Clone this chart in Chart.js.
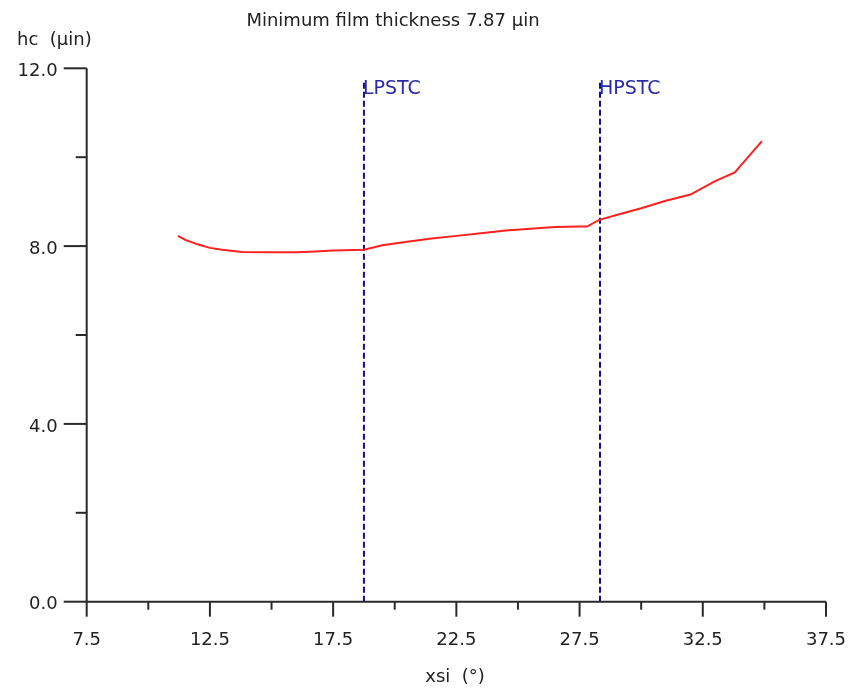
<!DOCTYPE html>
<html>
<head>
<meta charset="utf-8">
<script src="https://cdn.jsdelivr.net/npm/chart.js@4/dist/chart.umd.min.js"></script>
<style>
html,body{margin:0;padding:0;background:#fff;}
#wrap{width:851px;height:693px;position:relative;}
</style>
</head>
<body>
<div id="wrap"><canvas id="c" width="851" height="693"></canvas></div>
<script>
const titleText = "Minimum film thickness 7.87 \u00b5in";
const yAxisTitle = "hc  (\u00b5in)";
const xAxisTitle = "xsi  (\u00b0)";
const xsi = [11.2, 11.5, 12.0, 12.5, 13.0, 13.8, 15.0, 16.0, 16.8, 17.5, 18.75, 19.5, 20.5, 21.5, 22.5, 23.5, 24.5, 25.5, 26.5, 27.5, 27.8, 28.3, 29.0, 30.0, 31.0, 32.0, 33.0, 33.8, 34.3, 34.9];
const hc  = [8.23, 8.14, 8.04, 7.96, 7.92, 7.87, 7.86, 7.86, 7.88, 7.90, 7.92, 8.02, 8.10, 8.17, 8.23, 8.29, 8.35, 8.39, 8.43, 8.44, 8.44, 8.59, 8.70, 8.85, 9.02, 9.16, 9.46, 9.66, 9.98, 10.36];
const markerNames = ["LPSTC", "HPSTC"];
const markerX = [18.75, 28.33];
const markerTop = 11.7;
const xTicks = [7.5, 10, 12.5, 15, 17.5, 20, 22.5, 25, 27.5, 30, 32.5, 35, 37.5];
const xTickLabels = ["7.5", "", "12.5", "", "17.5", "", "22.5", "", "27.5", "", "32.5", "", "37.5"];
const yTicks = [0, 2, 4, 6, 8, 10, 12];
const yTickLabels = ["0.0", "", "4.0", "", "8.0", "", "12.0"];

const FONT = '18px "DejaVu Sans"';
const AXIS = '#2a2a2a';

const datasets = [{
  data: xsi.map((x, i) => ({x: x, y: hc[i]})),
  borderColor: '#ff2020', borderWidth: 2, pointRadius: 0, tension: 0, fill: false
}];
markerX.forEach(mx => datasets.push({
  data: [{x: mx, y: 0}, {x: mx, y: markerTop}],
  borderColor: '#10108a', borderWidth: 2, borderDash: [6, 3], pointRadius: 0, fill: false
}));

const drawAxes = {
  id: 'drawAxes',
  afterDraw(chart) {
    const ctx = chart.ctx, xs = chart.scales.x, ys = chart.scales.y;
    const x0 = xs.getPixelForValue(7.5), x1 = xs.getPixelForValue(37.5);
    const y0 = ys.getPixelForValue(0), y1 = ys.getPixelForValue(12);
    ctx.save();
    ctx.strokeStyle = AXIS; ctx.lineWidth = 2;
    ctx.beginPath();
    ctx.moveTo(x0, y1); ctx.lineTo(x0, y0); ctx.lineTo(x1, y0);
    ctx.stroke();
    ctx.lineWidth = 2;
    ctx.fillStyle = '#222';
    ctx.font = FONT;
    // y ticks
    yTicks.forEach((v, i) => {
      const py = ys.getPixelForValue(v);
      const len = yTickLabels[i] ? 23 : 11;
      ctx.beginPath(); ctx.moveTo(x0 - len, py); ctx.lineTo(x0, py); ctx.stroke();
      if (yTickLabels[i]) {
        ctx.textAlign = 'right'; ctx.textBaseline = 'middle';
        ctx.fillText(yTickLabels[i], x0 - 29, py + 3);
      }
    });
    // x ticks
    xTicks.forEach((v, i) => {
      const px = xs.getPixelForValue(v);
      const len = xTickLabels[i] ? 15 : 8;
      ctx.beginPath(); ctx.moveTo(px, y0); ctx.lineTo(px, y0 + len); ctx.stroke();
      if (xTickLabels[i]) {
        ctx.textAlign = 'center'; ctx.textBaseline = 'middle';
        ctx.fillText(xTickLabels[i], px, 640);
      }
    });
    // titles
    ctx.textAlign = 'center'; ctx.textBaseline = 'middle';
    ctx.fillText(titleText, 393, 21);
    ctx.fillText(xAxisTitle, 455, 677);
    ctx.textAlign = 'left';
    ctx.fillText(yAxisTitle, 17, 40);
    // marker labels
    ctx.fillStyle = '#2a2aa8';
    ctx.font = '19px "DejaVu Sans"';
    ctx.textAlign = 'left'; ctx.textBaseline = 'middle';
    markerX.forEach((mx, i) => {
      ctx.fillText(markerNames[i], xs.getPixelForValue(mx) - 1, 89);
    });
    ctx.restore();
  }
};

new Chart(document.getElementById('c'), {
  type: 'line',
  data: {datasets: datasets},
  options: {
    responsive: false,
    animation: false,
    devicePixelRatio: 1,
    layout: {padding: {left: 86.7, right: 25, top: 68.3, bottom: 91.3}},
    plugins: {legend: {display: false}, tooltip: {enabled: false}, title: {display: false}},
    scales: {
      x: {type: 'linear', min: 7.5, max: 37.5, display: false},
      y: {type: 'linear', min: 0, max: 12, display: false}
    }
  },
  plugins: [drawAxes]
});
</script>
</body>
</html>
